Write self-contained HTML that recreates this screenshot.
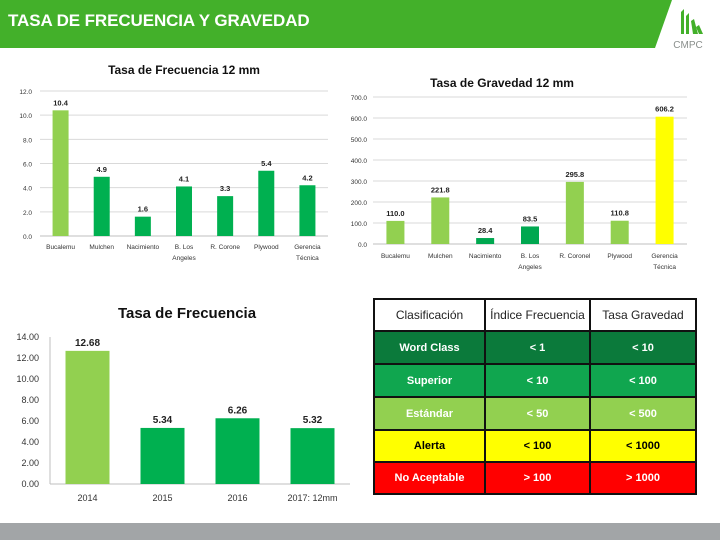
<!DOCTYPE html>
<html><head><meta charset="utf-8">
<style>
body{margin:0;width:720px;height:540px;overflow:hidden;background:#fff;font-family:"Liberation Sans",sans-serif;position:relative}
.hdr{position:absolute;left:0;top:0;width:720px;height:60px}
.title{position:absolute;left:8px;top:11px;color:#fff;font-size:17px;font-weight:bold;letter-spacing:-0.1px}
table{position:absolute;left:373px;top:298px;border-collapse:collapse;font-size:11px;font-weight:bold}
td{border:2px solid #111;text-align:center;padding:0}
.foot{position:absolute;left:0;top:523px;width:720px;height:17px;background:#a2a5a7}
</style></head><body>
<svg class="hdr" width="720" height="60">
<polygon points="0,0 672,0 655,48 0,48" fill="#43b02a"/>
<g fill="#43b02a">
<polygon points="681,12 684,9 684,34 681,34"/>
<polygon points="686,16 689,13 689,34 686,34"/>
<polygon points="691,21 694,19 698,34 693,34"/>
<polygon points="696,27 699,25 703,34 699,34"/>
</g>
<text x="688" y="48" font-size="10" fill="#8a8f8c" text-anchor="middle" font-family="Liberation Sans">CMPC</text>
</svg>
<div class="title">TASA DE FRECUENCIA Y GRAVEDAD</div>

<svg id="c1" style="position:absolute;left:0;top:0" width="720" height="540"></svg>

<table>
<tr style="height:32px;background:#fff;color:#222;font-weight:normal;font-size:12px"><td style="width:109px">Clasificación</td><td style="width:103px">Índice Frecuencia</td><td style="width:104px">Tasa Gravedad</td></tr>
<tr style="height:33px;background:#0b7a3b;color:#fff"><td>Word Class</td><td>&lt; 1</td><td>&lt; 10</td></tr>
<tr style="height:33px;background:#10a64f;color:#fff"><td>Superior</td><td>&lt; 10</td><td>&lt; 100</td></tr>
<tr style="height:33px;background:#92d050;color:#fff"><td>Estándar</td><td>&lt; 50</td><td>&lt; 500</td></tr>
<tr style="height:32px;background:#ffff00;color:#000"><td>Alerta</td><td>&lt; 100</td><td>&lt; 1000</td></tr>
<tr style="height:32px;background:#ff0000;color:#fff"><td>No Aceptable</td><td>&gt; 100</td><td>&gt; 1000</td></tr>
</table>
<div class="foot"></div>

<script>
const cat1=["Bucalemu","Mulchen","Nacimiento","B. Los|Angeles","R. Corone","Plywood","Gerencia|Técnica"];
const val1=[10.4,4.9,1.6,4.1,3.3,5.4,4.2];
const col1=["#92d050","#00b050","#00b050","#00b050","#00b050","#00b050","#00b050"];
const ticks1=["0.0","2.0","4.0","6.0","8.0","10.0","12.0"];
const cat2=["Bucalemu","Mulchen","Nacimiento","B. Los|Angeles","R. Coronel","Plywood","Gerencia|Técnica"];
const val2=[110.0,221.8,28.4,83.5,295.8,110.8,606.2];
const col2=["#92d050","#92d050","#00a850","#00a850","#92d050","#92d050","#ffff00"];
const ticks2=["0.0","100.0","200.0","300.0","400.0","500.0","600.0","700.0"];
const cat3=["2014","2015","2016","2017: 12mm"];
const val3=[12.68,5.34,6.26,5.32];
const col3=["#92d050","#00b050","#00b050","#00b050"];
const ticks3=["0.00","2.00","4.00","6.00","8.00","10.00","12.00","14.00"];

const svg=document.getElementById('c1');
const NS="http://www.w3.org/2000/svg";
function el(t,a,txt){const e=document.createElementNS(NS,t);for(const k in a)e.setAttribute(k,a[k]);if(txt!==undefined)e.textContent=txt;svg.appendChild(e);return e;}

function chart(o){
  const y=v=>o.y0-(v/o.max)*(o.y0-o.y1);
  const step=(o.x1-o.x0)/o.cats.length;
  const x=i=>o.x0+step*(i+0.5);
  const t=el('text',{x:(o.x0+o.x1)/2+o.tdx,y:o.ty,'font-size':o.tfs,'font-weight':'bold','text-anchor':'middle',fill:'#111'},o.title);
  
  
  o.ticks.forEach(s=>{const v=parseFloat(s);
    if(o.grid&&v>0){const g=el('line',{x1:o.x0,x2:o.x1,y1:y(v),y2:y(v),stroke:'#d9d9d9','stroke-width':1});
      }
    const l=el('text',{x:o.x0-o.lg,y:y(v)+3,'font-size':o.fs,'text-anchor':'end',fill:'#333'},s);
    });
  const ax=el('line',{x1:o.x0,x2:o.x1,y1:o.y0,y2:o.y0,stroke:'#bfbfbf'});
  
  if(o.yaxis){const ay=el('line',{x1:o.x0,x2:o.x0,y1:o.y0,y2:o.y1,stroke:'#bfbfbf'});
    }
  o.vals.forEach((v,i)=>{
    const b=el('rect',{x:x(i)-o.bw/2,y:y(v),width:o.bw,height:o.y0-y(v),fill:o.cols[i]});
    
    const lb=el('text',{x:x(i),y:y(v)-5,'font-size':o.fs+1,'font-weight':'bold','text-anchor':'middle',fill:'#222'},v.toFixed(o.dec));
    
    o.cats[i].split('|').forEach((s,k)=>{
      const c=el('text',{x:x(i),y:o.y0+o.cy+k*11,'font-size':o.fs,'text-anchor':'middle',fill:'#333'},s);
      });
  });
}
chart({name:'freq-12mm',cats:cat1,vals:val1,cols:col1,ticks:ticks1,max:12,x0:40,x1:328,y0:236,y1:91,bw:16,fs:6.5,lg:8,cy:13,dec:1,grid:true,title:'Tasa de Frecuencia 12 mm',ty:74,tfs:12,tdx:0});
chart({name:'grav-12mm',cats:cat2,vals:val2,cols:col2,ticks:ticks2,max:700,x0:373,x1:687,y0:244,y1:97,bw:18,fs:6.5,lg:6,cy:14,dec:1,grid:true,title:'Tasa de Gravedad 12 mm',ty:87,tfs:12,tdx:-28});
chart({name:'freq-annual',cats:cat3,vals:val3,cols:col3,ticks:ticks3,max:14,x0:50,x1:350,y0:484,y1:337,bw:44,fs:9,lg:11,cy:17,dec:2,grid:false,yaxis:true,title:'Tasa de Frecuencia',ty:318,tfs:15,tdx:-13});
</script>
</body></html>
